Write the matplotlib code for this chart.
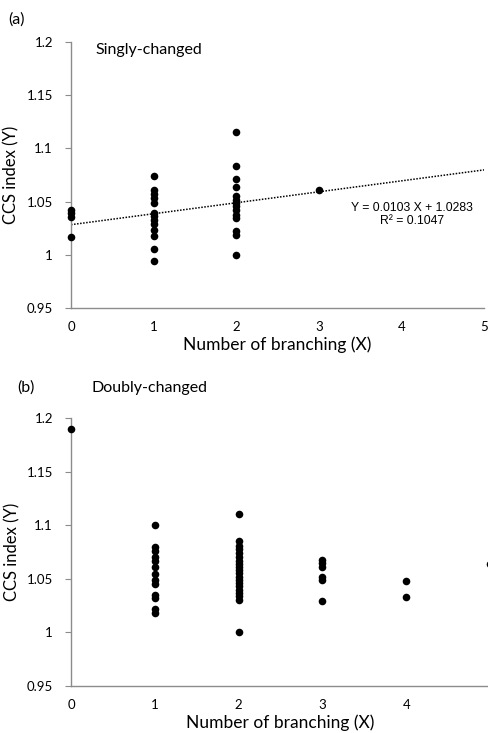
import numpy as np
import matplotlib
matplotlib.use('Agg')
import matplotlib.pyplot as plt
from matplotlib.ticker import FuncFormatter

plt.rcParams['font.family'] = ['Lato', 'DejaVu Sans']

# Panel (a): singly-changed
a_x0 = [1.0425, 1.039, 1.036, 1.017]
a_x1 = [1.0744, 1.0606, 1.0572, 1.0535, 1.0488, 1.0394, 1.0362, 1.0325,
        1.0294, 1.0237, 1.0174, 1.005, 0.994]
a_x2 = [1.1157, 1.0838, 1.0713, 1.0638, 1.055, 1.0519, 1.0488, 1.0456,
        1.0425, 1.0378, 1.0347, 1.022, 1.019, 1.0]
a_x3 = [1.0606]
a_slope, a_icpt, a_r2 = 0.0103, 1.0283, 0.1047

# Panel (b): doubly-changed
b_x0 = [1.19]
b_x1 = [1.1001, 1.0793, 1.0756, 1.07, 1.0669, 1.0607, 1.0546, 1.049,
        1.0453, 1.035, 1.0322, 1.022, 1.018]
b_x2 = [1.1103, 1.085, 1.081, 1.078, 1.074, 1.070, 1.067, 1.064, 1.061,
        1.058, 1.055, 1.052, 1.049, 1.046, 1.043, 1.040, 1.037, 1.034,
        1.030, 1.0]
b_x3 = [1.0676, 1.0644, 1.0607, 1.052, 1.049, 1.029]
b_x4 = [1.0483, 1.0328]
b_x5 = [1.064]

yticks = [0.95, 1.0, 1.05, 1.1, 1.15, 1.2]
xticks_a = [0, 1, 2, 3, 4, 5]
xticks_b = [0, 1, 2, 3, 4]   # 5 falls off the right edge in panel (b)

axis_col = '#8c8c8c'


def style(ax, xticks, ylab_x):
    ax.set_xlim(0, 5)
    ax.set_ylim(0.95, 1.2)
    ax.set_xticks(xticks)
    ax.set_yticks(yticks)
    ax.yaxis.set_major_formatter(FuncFormatter(lambda v, p: '%g' % v))
    for s in ['top', 'right']:
        ax.spines[s].set_visible(False)
    for s in ['left', 'bottom']:
        ax.spines[s].set_color(axis_col)
        ax.spines[s].set_linewidth(1.0)
    ax.tick_params(axis='y', length=4, color=axis_col, labelsize=9.5, pad=9)
    ax.tick_params(axis='x', length=0, labelsize=9.5, pad=9)
    ax.set_xlabel('Number of branching (X)', fontsize=12.5, labelpad=3)
    ax.set_ylabel('CCS index (Y)', fontsize=12)
    ax.yaxis.set_label_coords(ylab_x, 0.5)


def dots(ax, groups):
    for xv, ys in groups:
        ax.scatter([xv] * len(ys), ys, s=30, color='black', zorder=3,
                   clip_on=False, linewidths=0)


fig = plt.figure(figsize=(4.89, 7.33), dpi=100)

ax1 = fig.add_axes([0.1452, 0.5798, 0.8446, 0.3629])
style(ax1, xticks_a, -0.125)
dots(ax1, [(0, a_x0), (1, a_x1), (2, a_x2), (3, a_x3)])
xl = np.array([0, 5])
ax1.plot(xl, a_slope * xl + a_icpt, color='black', lw=1.1,
         linestyle=(0, (1, 1)), zorder=2)
ax1.text(4.13, 1.0444, 'Y = %.4f X + %.4f' % (a_slope, a_icpt),
         family='Liberation Sans', fontsize=8.8, ha='center', va='center')
ax1.text(4.13, 1.032, 'R\u00b2 = %.4f' % a_r2,
         family='Liberation Sans', fontsize=8.8, ha='center', va='center')
fig.text(0.016, 0.973, '(a)', fontsize=11.5, va='center')
fig.text(0.195, 0.932, 'Singly-changed', fontsize=11.5, va='center')

ax2 = fig.add_axes([0.1452, 0.0641, 0.857, 0.3656])
style(ax2, xticks_b, -0.12)
dots(ax2, [(0, b_x0), (1, b_x1), (2, b_x2), (3, b_x3), (4, b_x4), (5, b_x5)])
fig.text(0.035, 0.471, '(b)', fontsize=11.5, va='center')
fig.text(0.188, 0.471, 'Doubly-changed', fontsize=11.5, va='center')

fig.savefig('out.png', dpi=100, facecolor='w')
